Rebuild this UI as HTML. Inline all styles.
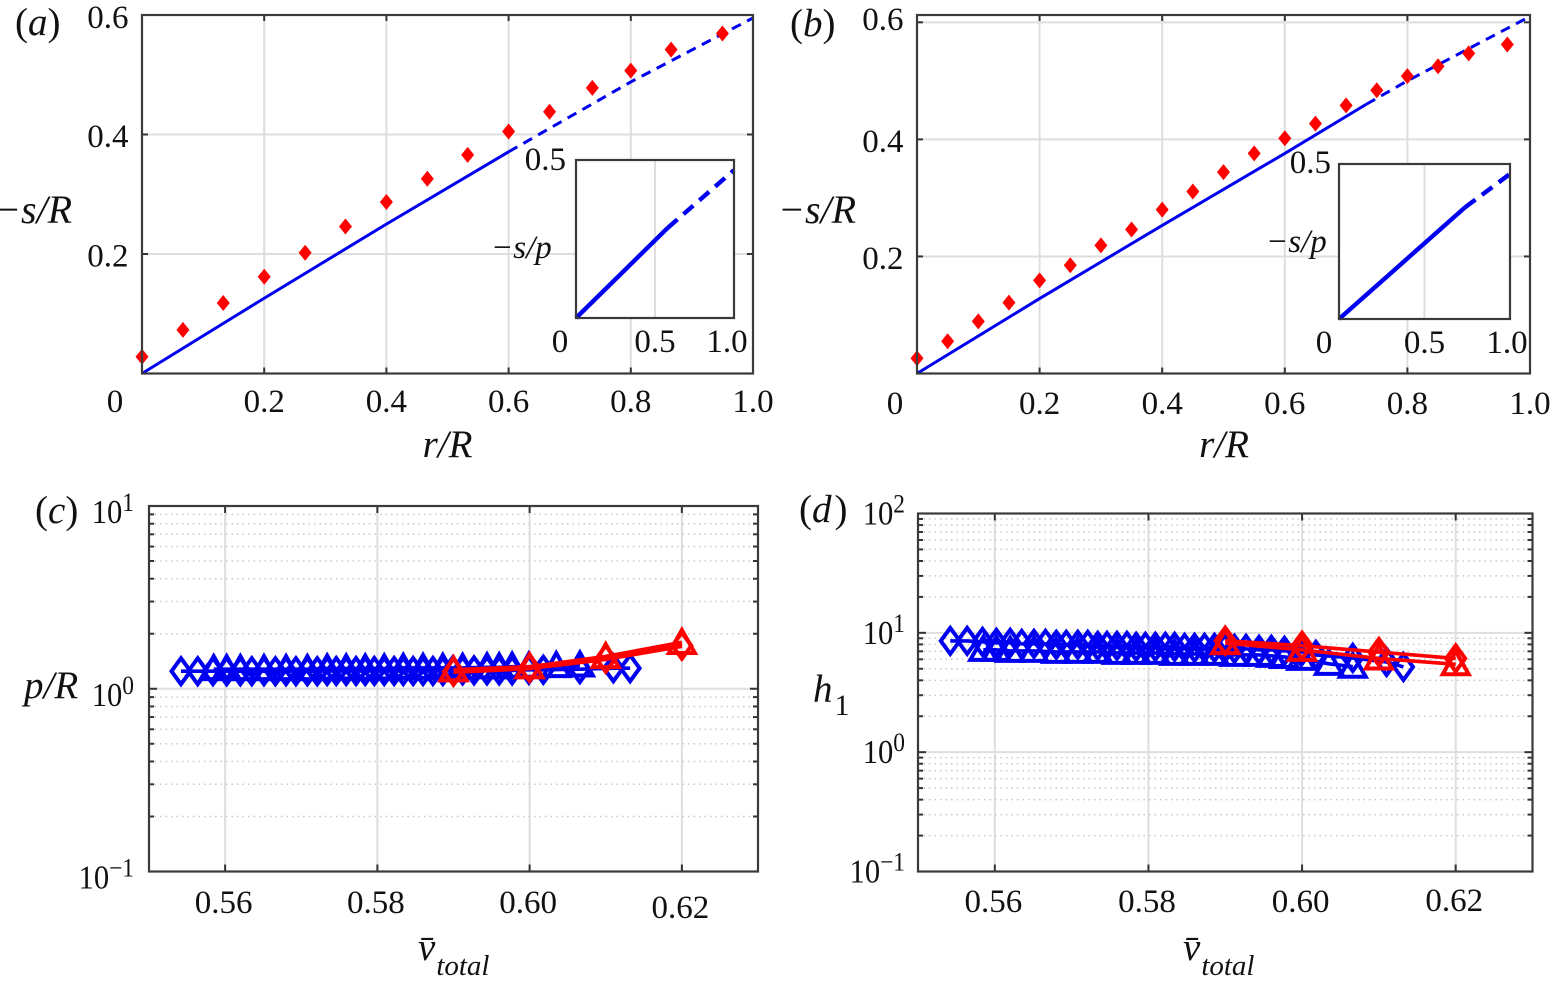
<!DOCTYPE html>
<html lang="en">
<head>
<meta charset="utf-8">
<title>Four panel chart</title>
<style>
html,body{margin:0;padding:0;background:#fff;width:1551px;height:987px;overflow:hidden}
svg{display:block}
text{font-family:"Liberation Serif",serif;fill:#111;font-size:33px}
.i{font-style:italic}
.pl{font-size:39px}
.at{font-size:40px}
.it{font-size:33px}
</style>
</head>
<body>
<svg id="fig" xmlns="http://www.w3.org/2000/svg" width="1551" height="987" viewBox="0 0 1551 987">
<g id="marks"></g>
<text class="pl" x="15" y="35">(<tspan class="i">a</tspan>)</text>
<text class="pl" x="790" y="36">(<tspan class="i">b</tspan>)</text>
<text class="pl" x="35" y="523">(<tspan class="i">c</tspan>)</text>
<text class="pl" x="799" y="522">(<tspan class="i">d</tspan><tspan dx="3">)</tspan></text>
<text class="i at" x="-6" y="223">−s/R</text>
<text class="i at" x="778" y="223">−s/R</text>
<text class="i pl" x="447.5" y="457" text-anchor="middle">r/R</text>
<text class="i pl" x="1224" y="457" text-anchor="middle">r/R</text>
<text class="i it" x="491" y="258">−s/p</text>
<text class="i it" x="1266" y="252">−s/p</text>
<text class="i pl" x="24" y="698">p/R</text>
<text class="i pl" x="813" y="702">h<tspan dy="13" dx="2" style="font-style:normal;font-size:30px">1</tspan></text>
<text class="i pl" x="418" y="960">v̄<tspan dy="15" style="font-size:29px" dx="1">total</tspan></text>
<text class="i pl" x="1183" y="960">v̄<tspan dy="15" style="font-size:29px" dx="1">total</tspan></text>
</svg>
<script>
// Panel (a) data
const aPointsR = [0, .067, .133, .2, .267, .333, .4, .467, .533, .6, .667, .737, .8, .866, .95];
const aPointsS = [.028, .073, .118, .162, .202, .246, .287, .326, .366, .405, .438, .478, .507, .542, .569];
const aSolidR = [0, .2, .4, .6];
const aSolidS = [0, .126, .25, .371];
const aDashR = [.6, .8, 1];
const aDashS = [.371, .488, .595];
const aInsetSolidR = [0, .58];
const aInsetSolidS = [0, .285];
const aInsetDashR = [.58, 1];
const aInsetDashS = [.285, .468];
// Panel (b) data
const bPointsR = [0, .05, .1, .15, .2, .25, .3, .35, .4, .45, .5, .55, .6, .65, .7, .75, .8, .85, .9, .963];
const bPointsS = [.026, .055, .089, .121, .159, .185, .219, .246, .28, .311, .344, .376, .402, .427, .458, .484, .508, .525, .547, .562];
const bSolidR = [0, .2, .4, .6, .733];
const bSolidS = [0, .128, .253, .376, .46];
const bDashR = [.733, .8, 1];
const bDashS = [.46, .5, .61];
const bInsetSolidR = [0, .737];
const bInsetSolidS = [0, .36];
const bInsetDashR = [.737, 1];
const bInsetDashS = [.36, .468];
// Panels (c) and (d) data
const diamondV = [.5542,.5564,.5584,.5602,.562,.5635,.5651,.5666,.568,.5693,.5708,.5721,.5734,.5746,.5759,.5772,.5784,.5796,.5809,.5822,.5834,.5847,.586,.5873,.5886,.5899,.5912,.5927,.5944,.596,.5977,.5999,.6018,.6066,.611,.6132];
const cDiamondP = [1.247,1.247,1.247,1.247,1.247,1.247,1.247,1.247,1.247,1.247,1.247,1.247,1.25,1.25,1.25,1.25,1.25,1.25,1.25,1.25,1.25,1.25,1.25,1.25,1.25,1.26,1.26,1.26,1.26,1.26,1.26,1.27,1.27,1.28,1.295,1.295];
const dDiamondH = [8.56,8.56,8.4,8.24,8.24,8.08,8.08,8.08,7.93,7.93,7.93,7.93,7.77,7.77,7.77,7.77,7.63,7.63,7.63,7.63,7.63,7.48,7.48,7.48,7.48,7.34,7.34,7.34,7.2,7.2,7.06,6.92,6.53,6.16,5.7,5.18];
const triangleV = [.5585,.5602,.562,.5651,.568,.5708,.5734,.5759,.5784,.5809,.5834,.586,.5886,.5912,.5944,.596,.5977,.5999,.6035,.6066];
const cTriangleP = [1.28,1.28,1.28,1.28,1.28,1.28,1.29,1.29,1.29,1.29,1.3,1.3,1.3,1.3,1.31,1.31,1.32,1.32,1.33,1.34];
const dTriangleH = [7.2,7.2,7.06,7.06,6.92,6.92,6.92,6.79,6.79,6.79,6.66,6.66,6.66,6.53,6.53,6.41,6.28,6.05,5.5,5.2];
const redV = [.59, .60, .61, .62];
const cRedTriP = [1.26, 1.31, 1.49, 1.78];
const cRedDiaP = [1.24, 1.30, 1.46, 1.72];
const dRedTriH = [8.2, 7.2, 6.1, 5.45];
const dRedDiaH = [8.6, 7.8, 6.9, 6.1];
// Tick labels
const linearTicks = [0, .2, .4, .6, .8, 1];
const linearLabels = ['0', '0.2', '0.4', '0.6', '0.8', '1.0'];
const insetLabels = ['0', '0.5', '1.0'];
const vTicks = [.56, .58, .60, .62];
const vLabels = ['0.56', '0.58', '0.60', '0.62'];
const cDecades = [-1, 0, 1];
const dDecades = [-1, 0, 1, 2];

const NS = 'http://www.w3.org/2000/svg';
const root = document.getElementById('marks');
function node(tag, attrs, parent) {
  const el = document.createElementNS(NS, tag);
  for (const k in attrs) el.setAttribute(k, attrs[k]);
  (parent || root).appendChild(el);
  return el;
}
function linScale(d0, d1, p0, p1) { return v => p0 + (v - d0) * (p1 - p0) / (d1 - d0); }
function logScale(d0, d1, p0, p1) { return v => p0 + (Math.log10(v) - d0) * (p1 - p0) / (d1 - d0); }

function gridLine(x1, y1, x2, y2, dotted, w) {
  const el = node('line', {x1, y1, x2, y2, stroke: dotted ? '#c8c8c8' : '#dedede', 'stroke-width': w || 2, 'stroke-dasharray': dotted ? '1.5 4' : 'none'});
  
  
}
function tick(x1, y1, x2, y2) {
  const el = node('line', {x1, y1, x2, y2, stroke: '#333', 'stroke-width': 2});
  
  
}
function frame(b) {
  const el = node('rect', {x: b.l, y: b.t, width: b.r - b.l, height: b.b - b.t, fill: 'none', stroke: '#3a3a3a', 'stroke-width': 2.2});
  
  
}
function tickLabel(txt, x, y, anchor) {
  const el = node('text', {x, y, 'text-anchor': anchor});
  el.textContent = txt;
  
  
}
function powerLabel(exp, x, y) {
  const el = node('text', {transform: `translate(${x} ${y}) scale(.9 1)`, 'text-anchor': 'end'});
  const base = node('tspan', {}, el);
  base.textContent = '10';
  base.style.fontSize = '34px';
  const sup = node('tspan', {dy: -12}, el);
  sup.style.fontSize = '26px';
  sup.textContent = exp < 0 ? '−' + (-exp) : String(exp);
  
  
}
function polyline(xs, ys, sx, sy, color, w, dash) {
  const pts = xs.map((v, i) => sx(v) + ',' + sy(ys[i])).join(' ');
  const el = node('polyline', {points: pts, fill: 'none', stroke: color, 'stroke-width': w, 'stroke-dasharray': dash || 'none', 'stroke-linejoin': 'round'});
  
  
}
function filledDiamond(x, y) {
  const el = node('path', {d: `M${x} ${y - 8}L${x + 6.5} ${y}L${x} ${y + 8}L${x - 6.5} ${y}Z`, fill: '#f00'});
  
  
}
function openDiamond(x, y, color) {
  const el = node('path', {d: `M${x} ${y - 13}L${x + 9.5} ${y}L${x} ${y + 13}L${x - 9.5} ${y}Z`, fill: 'none', stroke: color, 'stroke-width': 4});
  
  
}
function openTriangle(x, y, color) {
  const el = node('path', {d: `M${x} ${y - 13}L${x + 13} ${y + 10}L${x - 13} ${y + 10}Z`, fill: 'none', stroke: color, 'stroke-width': 4});
  
  
}

function linearPanel(b, ymax, topBaseline, xZeroX, xBase, rr, ss, solidR, solidS, dashR, dashS) {
  const sx = linScale(0, 1, b.l, b.r), sy = linScale(0, ymax, b.b, b.t);
  [.2, .4, .6, .8].forEach(v => gridLine(sx(v), b.t, sx(v), b.b));
  [.2, .4, .6].forEach(v => { if (sy(v) > b.t) gridLine(b.l, sy(v), b.r, sy(v)); });
  polyline(solidR, solidS, sx, sy, '#0000f0', 3);
  polyline(dashR, dashS, sx, sy, '#0000f0', 3, '10 7');
  rr.forEach((v, i) => filledDiamond(sx(v), sy(ss[i])));
  linearTicks.forEach((v, i) => {
    tick(sx(v), b.t, sx(v), b.t + 6);
    tick(sx(v), b.b, sx(v), b.b - 6);
    if (i === 0) tickLabel(linearLabels[i], xZeroX, xBase, 'middle');
    else tickLabel(linearLabels[i], sx(v), xBase, 'middle');
  });
  [.2, .4, .6].forEach((v, i) => {
    tick(b.l, sy(v), b.l + 6, sy(v));
    tick(b.r, sy(v), b.r - 6, sy(v));
    tickLabel(linearLabels[i + 1], b.l - 13.5, i === 2 ? topBaseline : sy(v) + 12.5, 'end');
  });
  frame(b);
}
function insetPanel(b, solidR, solidS, dashR, dashS, topLabelX, topLabelY, zeroX, baseY, oneX) {
  const el = node('rect', {x: b.l, y: b.t, width: b.r - b.l, height: b.b - b.t, fill: '#fff'});
  
  
  const sx = linScale(0, 1, b.l, b.r), sy = linScale(0, .5, b.b, b.t);
  gridLine(sx(.5), b.t, sx(.5), b.b);
  polyline(solidR, solidS, sx, sy, '#0000f0', 4.4);
  polyline(dashR, dashS, sx, sy, '#0000f0', 4.4, '13 8');
  frame(b);
  tickLabel(insetLabels[1], topLabelX, topLabelY, 'end');
  tickLabel(insetLabels[0], zeroX, baseY, 'middle');
  tickLabel(insetLabels[1], sx(.5), baseY, 'middle');
  tickLabel(insetLabels[2], oneX, baseY, 'middle');
}
function logPanel(b, decades, xBase, lastBase, labelX, labelOffset, dx, dy, tx, ty, redTri, redDia, redWidth) {
  const sx = linScale(.55, .63, b.l, b.r);
  const sy = logScale(decades[0], decades[decades.length - 1], b.b, b.t);
  vTicks.forEach(v => gridLine(sx(v), b.t, sx(v), b.b));
  decades.forEach((e, i) => {
    const y = sy(Math.pow(10, e));
    if (i > 0 && i < decades.length - 1) gridLine(b.l, y, b.r, y);
    tick(b.l, y, b.l + 8, y);
    tick(b.r, y, b.r - 8, y);
    powerLabel(e, labelX, y + labelOffset);
    if (i === decades.length - 1) return;
    for (let m = 2; m <= 9; m++) {
      const ym = sy(m * Math.pow(10, e));
      gridLine(b.l, ym, b.r, ym, true, 1.5);
      tick(b.l, ym, b.l + 5, ym);
      tick(b.r, ym, b.r - 5, ym);
    }
  });
  vTicks.forEach((v, i) => {
    tick(sx(v), b.t, sx(v), b.t + 7);
    tick(sx(v), b.b, sx(v), b.b - 7);
    tickLabel(vLabels[i], sx(v) - 1.5, i === vTicks.length - 1 ? lastBase : xBase, 'middle');
  });
  polyline(dx, dy, sx, sy, '#0000f0', 3.6);
  polyline(tx, ty, sx, sy, '#0000f0', 3.6);
  dx.forEach((v, i) => openDiamond(sx(v), sy(dy[i]), '#0000f0'));
  tx.forEach((v, i) => openTriangle(sx(v), sy(ty[i]), '#0000f0'));
  polyline(redV, redTri, sx, sy, '#f00', redWidth);
  polyline(redV, redDia, sx, sy, '#f00', redWidth);
  redV.forEach((v, i) => openDiamond(sx(v), sy(redDia[i]), '#f00'));
  redV.forEach((v, i) => openTriangle(sx(v), sy(redTri[i]), '#f00'));
  frame(b);
}

linearPanel({l: 142, r: 753, t: 15, b: 373.5}, .6, 28, 115, 412, aPointsR, aPointsS, aSolidR, aSolidS, aDashR, aDashS);
insetPanel({l: 576, r: 734, t: 160, b: 318}, aInsetSolidR, aInsetSolidS, aInsetDashR, aInsetDashS, 566, 170, 560, 352, 727);
linearPanel({l: 917, r: 1530, t: 15, b: 373.5}, .6125, 30, 895, 414, bPointsR, bPointsS, bSolidR, bSolidS, bDashR, bDashS);
insetPanel({l: 1339, r: 1510, t: 164, b: 319}, bInsetSolidR, bInsetSolidS, bInsetDashR, bInsetDashS, 1331, 173, 1324, 353, 1507);
logPanel({l: 149, r: 758, t: 506, b: 871.5}, cDecades, 913, 918, 134, 17, diamondV, cDiamondP, triangleV, cTriangleP, cRedTriP, cRedDiaP, 5);
logPanel({l: 918, r: 1532.5, t: 513.5, b: 871.5}, dDecades, 912, 911, 905, 11, diamondV, dDiamondH, triangleV, dTriangleH, dRedTriH, dRedDiaH, 3.6);
</script>
</body>
</html>
